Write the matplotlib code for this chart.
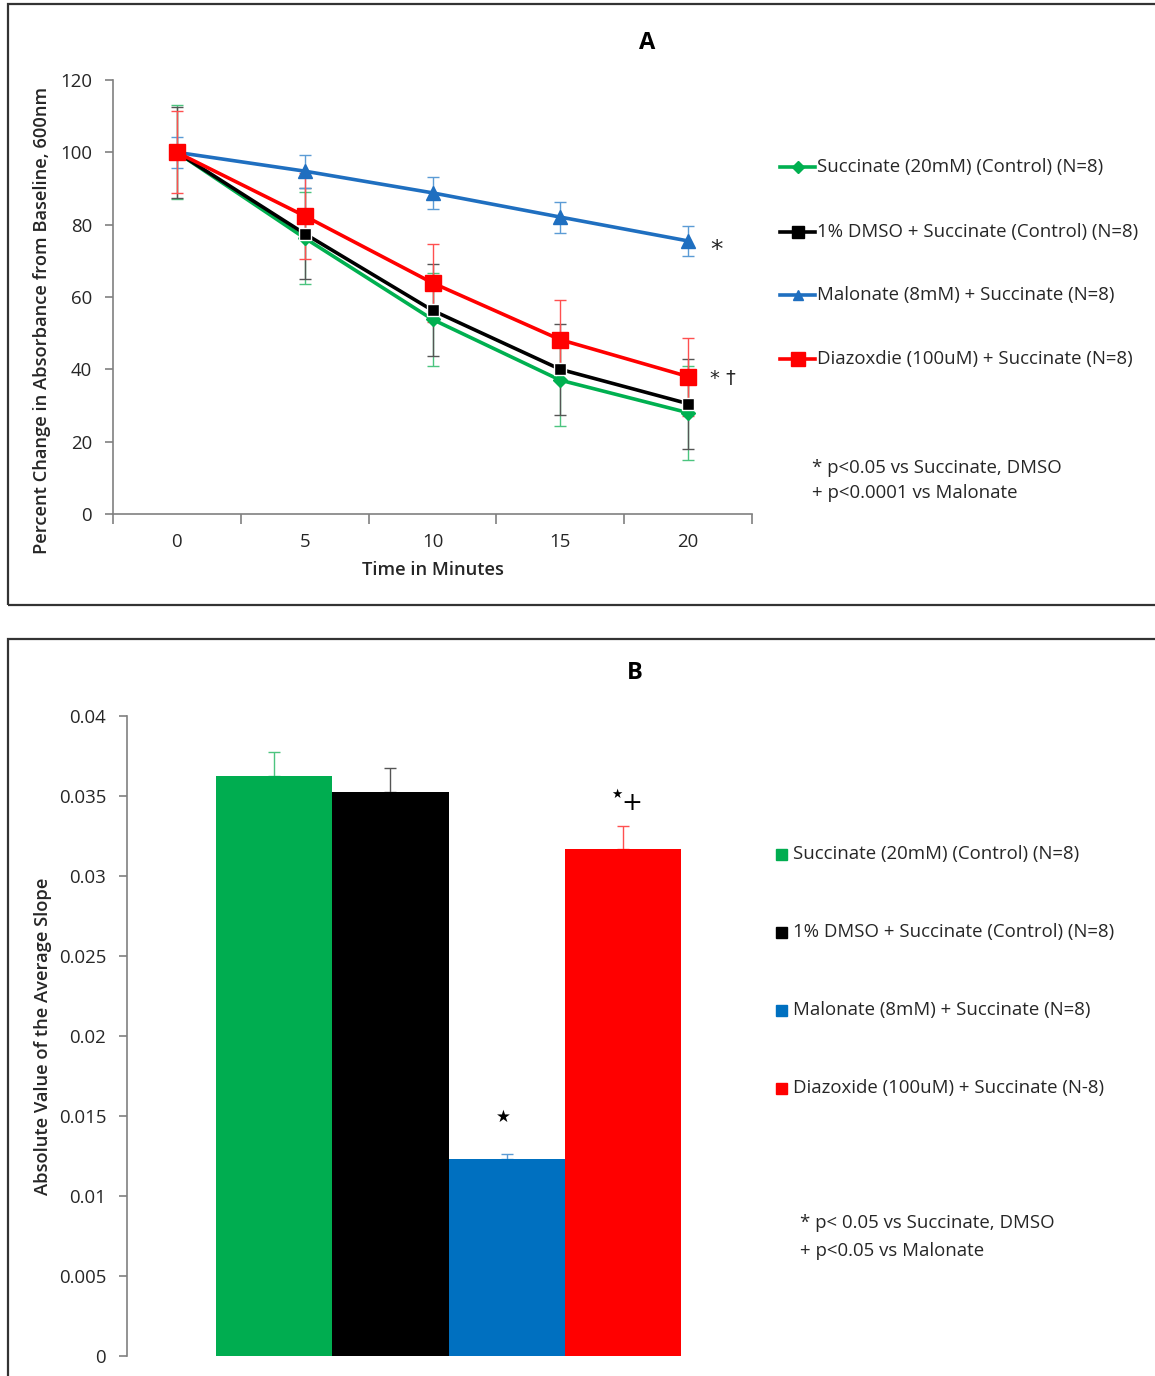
import matplotlib
matplotlib.use("Agg")
import matplotlib.pyplot as plt
from matplotlib.patches import Rectangle
import numpy as np

plt.rcParams['font.family'] = ['Open Sans', 'DejaVu Sans']

# ---------------- Data ----------------
times = [0, 5, 10, 15, 20]
time_labels = ['0', '5', '10', '15', '20']

succ_vals = [100, 76.3, 53.8, 37.0, 28.0]
succ_err = [13.0, 12.7, 12.8, 12.7, 13.0]
dmso_vals = [100, 77.5, 56.3, 40.0, 30.5]
dmso_err = [12.5, 12.6, 12.7, 12.6, 12.4]
malo_vals = [100, 94.8, 88.8, 82.1, 75.5]
malo_err = [4.3, 4.6, 4.5, 4.3, 4.2]
diaz_vals = [100, 82.4, 63.9, 48.2, 38.0]
diaz_err = [11.3, 11.8, 10.8, 11.0, 10.8]

labels_a = ['Succinate (20mM) (Control) (N=8)',
            '1% DMSO + Succinate (Control) (N=8)',
            'Malonate (8mM) + Succinate (N=8)',
            'Diazoxdie (100uM) + Succinate (N=8)']

bar_labels = ['Succinate (20mM) (Control) (N=8)',
              '1% DMSO + Succinate (Control) (N=8)',
              'Malonate (8mM) + Succinate (N=8)',
              'Diazoxide (100uM) + Succinate (N-8)']
slope_vals = [0.03623, 0.03523, 0.01233, 0.03167]
slope_err = [0.00152, 0.00150, 0.00030, 0.00146]

colors = ['#00B050', '#000000', '#1F6FC0', '#FF0000']
bar_colors = ['#00AD50', '#000000', '#0070C0', '#FF0000']
err_colors = ['#4CC47F', '#555555', '#5B9BD5', '#FF5050']

W, H = 1155, 1376
fig = plt.figure(figsize=(W / 100, H / 100), dpi=100)

def fx(px):
    return px / W

def fy(py):
    return 1 - py / H

TXT = '#262626'
FS = 13.4

# panel frames
fig.patches.append(Rectangle((fx(8), fy(605)), fx(1160) - fx(8), fy(4) - fy(605),
                             transform=fig.transFigure, fill=False,
                             edgecolor='#333333', lw=1.6))
fig.patches.append(Rectangle((fx(8), fy(1385)), fx(1160) - fx(8), fy(639) - fy(1385),
                             transform=fig.transFigure, fill=False,
                             edgecolor='#333333', lw=1.6))

# ---------------- Panel A ----------------
axA = fig.add_axes([fx(113), fy(514), fx(752) - fx(113), fy(80) - fy(514)])
xpos = np.arange(len(times))
series = [(succ_vals, succ_err, 'D', 7), (dmso_vals, dmso_err, 's', 9),
          (malo_vals, malo_err, '^', 10), (diaz_vals, diaz_err, 's', 12)]
handles = []
for i, (v, e, m, ms) in enumerate(series):
    axA.errorbar(xpos, v, yerr=e, fmt='none', ecolor=err_colors[i], elinewidth=1.0,
                 capsize=4, capthick=1.0, zorder=2)
    h, = axA.plot(xpos, v, color=colors[i], lw=2.6, marker=m, markersize=ms,
                  markeredgecolor='white' if i == 1 else colors[i], markeredgewidth=1.0,
                  zorder=3 + i)
    handles.append(h)

axA.set_xlim(-0.5, 4.5)
axA.set_ylim(0, 120)
axA.set_yticks(np.arange(0, 121, 20))
axA.set_xticks(np.arange(-0.5, 4.6, 1.0))
axA.set_xticklabels([])
axA.set_xticks(xpos, minor=True)
axA.set_xticklabels(time_labels, minor=True)
axA.tick_params(axis='x', which='major', direction='out', length=7, color='#808080', width=1.2)
axA.tick_params(axis='x', which='minor', length=0, pad=14, labelsize=FS, labelcolor=TXT)
axA.tick_params(axis='y', direction='out', length=6, color='#808080', width=1.2,
                labelsize=FS, labelcolor=TXT, pad=9)
for s in ['top', 'right']:
    axA.spines[s].set_visible(False)
for s in ['left', 'bottom']:
    axA.spines[s].set_color('#808080')
    axA.spines[s].set_linewidth(1.2)
axA.set_xlabel('Time in Minutes', fontsize=13.2, fontweight='semibold', color=TXT, labelpad=7)
axA.set_ylabel('Percent Change in Absorbance from Baseline, 600nm', fontsize=13.2,
               fontweight='semibold', color=TXT)
axA.yaxis.set_label_coords(-0.097, 0.447)

axA.text(4.17, malo_vals[-1] - 2.5, '*', fontsize=18, ha='left', va='center', color=TXT,
         family='DejaVu Sans')
axA.text(4.17, diaz_vals[-1] - 0.5, '* †', fontsize=14, ha='left', va='center', color=TXT,
         family='DejaVu Sans')

fig.text(fx(647), fy(43), 'A', fontsize=17, fontweight='bold', ha='center', va='center')

legA_y = [167, 232, 295, 359]
for i, (h, lab) in enumerate(zip(handles, labels_a)):
    y = fy(legA_y[i])
    fig.lines.append(plt.Line2D([fx(780), fx(815)], [y, y], transform=fig.transFigure,
                                color=colors[i], lw=2.6))
    mk = plt.Line2D([fx(797.5)], [y], transform=fig.transFigure, color=colors[i],
                    marker=h.get_marker(), markersize=[6, 8, 7, 10][i], lw=0)
    fig.lines.append(mk)
    fig.text(fx(817), y, lab, fontsize=FS, ha='left', va='center', color=TXT)

fig.text(fx(812), fy(468), '* p<0.05 vs Succinate, DMSO', fontsize=FS, ha='left',
         va='center', color=TXT)
fig.text(fx(812), fy(493), '+ p<0.0001 vs Malonate', fontsize=FS, ha='left',
         va='center', color=TXT)

# ---------------- Panel B ----------------
axB = fig.add_axes([fx(127), fy(1356), fx(770) - fx(127), fy(716) - fy(1356)])
bx = np.arange(len(slope_vals))
axB.bar(bx, slope_vals, width=1.0, color=bar_colors, edgecolor='none', zorder=2)
for i in range(len(slope_vals)):
    axB.errorbar(bx[i], slope_vals[i], yerr=[[0], [slope_err[i]]], fmt='none',
                 ecolor=err_colors[i], elinewidth=1.0, capsize=4, capthick=1.0, zorder=1)
axB.set_xlim(-1.264, 4.264)
axB.set_ylim(0, 0.04)
axB.set_yticks(np.arange(0, 0.0401, 0.005))
axB.set_yticklabels(['0', '0.005', '0.01', '0.015', '0.02', '0.025', '0.03', '0.035', '0.04'])
axB.set_xticks([])
axB.tick_params(axis='y', direction='out', length=6, color='#808080', width=1.2,
                labelsize=FS, labelcolor=TXT, pad=9)
for s in ['top', 'right', 'bottom']:
    axB.spines[s].set_visible(False)
axB.spines['left'].set_color('#808080')
axB.spines['left'].set_linewidth(1.2)
axB.set_ylabel('Absolute Value of the Average Slope', fontsize=13.2, fontweight='semibold',
               color=TXT)
axB.yaxis.set_label_coords((52 - 127) / (770 - 127), 0.5)

axB.text(bx[2] - 0.03, slope_vals[2] + 0.0026, '★', fontsize=12, ha='center', va='center',
         family='DejaVu Sans')
axB.text(bx[3] - 0.05, slope_vals[3] + 0.0034, '★', fontsize=9, ha='center', va='center',
         family='DejaVu Sans')
axB.text(bx[3] + 0.08, slope_vals[3] + 0.0029, '+', fontsize=18, ha='center', va='center',
         family='DejaVu Sans')

fig.text(fx(635), fy(673), 'B', fontsize=17, fontweight='bold', ha='center', va='center')

legB_y = [854, 932, 1010, 1088]
for i, lab in enumerate(bar_labels):
    y = fy(legB_y[i])
    fig.patches.append(Rectangle((fx(776), y - 5.5 / H), 11 / W, 11 / H,
                                 transform=fig.transFigure, color=bar_colors[i]))
    fig.text(fx(793), y, lab, fontsize=FS, ha='left', va='center', color=TXT)

fig.text(fx(800), fy(1223), '* p< 0.05 vs Succinate, DMSO', fontsize=FS, ha='left',
         va='center', color=TXT)
fig.text(fx(800), fy(1251), '+ p<0.05 vs Malonate', fontsize=FS, ha='left',
         va='center', color=TXT)

fig.savefig('out.png', dpi=100)
